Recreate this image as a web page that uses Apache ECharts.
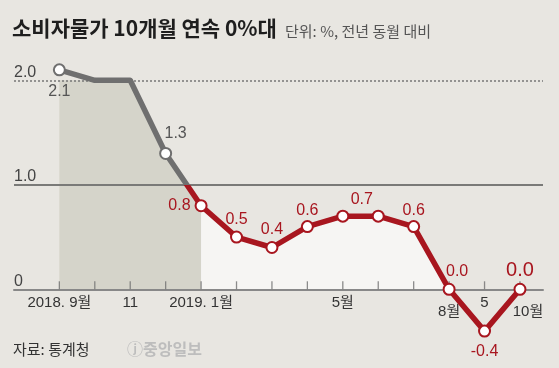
<!DOCTYPE html>
<html>
<head>
<meta charset="utf-8">
<script src="https://cdn.jsdelivr.net/npm/echarts@6/dist/echarts.min.js"></script>
<style>
html,body{margin:0;padding:0;background:#e8e6e1;}
#c{width:559px;height:368px;}
</style>
</head>
<body>
<div id="c"></div>
<script>
// ---- data ----
const categories = ['2018-09','2018-10','2018-11','2018-12','2019-01','2019-02','2019-03','2019-04','2019-05','2019-06','2019-07','2019-08','2019-09','2019-10'];
const cpi = [2.1, 2.0, 2.0, 1.3, 0.8, 0.5, 0.4, 0.6, 0.7, 0.7, 0.6, 0.0, -0.4, 0.0];
const tickLabels = ['2018. 9월','','11','','2019. 1월','','','','5월','','','8월','5','10월'];
const yTickValues = [0, 1, 2];
const titleText = '소비자물가 10개월 연속 0%대';
const unitText = '단위: %, 전년 동월 대비';
const sourceText = '자료: 통계청';
const logoText = 'ⓙ중앙일보';
const threshold = 1.0;   // colour change of the line
const shadeCap = 2.0;    // top of the shaded 2018 block
const grayEnd = 4;       // index of 2019-01
const lightEnd = 11;     // index of 2019-08

// ---- styles ----
const GRAY = '#6f6f6f';
const RED = '#a8161f';
const FONT = "'Liberation Sans', 'Noto Sans CJK KR', sans-serif";
const KFONT = "'Noto Sans CJK KR', sans-serif";
const noMarker = [1, 2];
const labelCfg = {
  0: {position:'bottom', distance:7, color:'#555'},
  3: {position:'top', distance:5, offset:[10,0], color:'#555'},
  4: {position:'left', distance:4},
  5: {position:'top', distance:3},
  6: {position:'top', distance:3},
  7: {position:'top', distance:2},
  8: {position:'top', distance:2, offset:[19,0]},
  10: {position:'top', distance:2},
  11: {position:'top', distance:3, offset:[8,0]},
  12: {position:'bottom', distance:6},
  13: {position:'top', distance:2, fontSize:20}
};
const lowered = {11:'low8', 13:'low10'};

const lineData = cpi.map((v, i) => {
  const item = {value:[i, v]};
  if (noMarker.includes(i)) item.symbol = 'none';
  const lc = labelCfg[i];
  if (lc) {
    item.label = Object.assign({show:true, color:RED, fontSize:16}, lc);
  }
  return item;
});
const grayArea = cpi.slice(0, grayEnd + 1).map((v, i) => [i, Math.min(v, shadeCap)]);
const lightArea = cpi.slice(grayEnd, lightEnd + 1).map((v, i) => [i + grayEnd, v]);
const tickMarks = categories.map((c, i) => [i, 0]);
const labelIdx = tickLabels.map((t, i) => t ? i : -1).filter(i => i >= 0);

const chart = echarts.init(document.getElementById('c'), null, {renderer:'canvas'});
chart.setOption({
  backgroundColor:'#e8e6e1',
  animation:false,
  title:[
    {text:titleText, left:12, top:18, padding:0,
     textStyle:{fontFamily:KFONT, fontSize:21, fontWeight:'bold', color:'#1e1e1e'}},
    {text:unitText, left:285, top:24, padding:0,
     textStyle:{fontFamily:KFONT, fontSize:15, fontWeight:'normal', color:'#555'}},
    {text:sourceText, left:13, top:342, padding:0,
     textStyle:{fontFamily:KFONT, fontSize:15, fontWeight:'normal', color:'#333'}},
    {text:logoText, left:127, top:341, padding:0,
     textStyle:{fontFamily:KFONT, fontSize:16, fontWeight:'bold', color:'#bdbdbd'}}
  ],
  grid:{left:14, right:16, top:59.4, bottom:78.7, containLabel:false, outerBoundsMode:'none'},
  xAxis:{
    type:'value', min:-1.28, max:13.65, z:1,
    splitLine:{show:false},
    axisLine:{show:true, onZero:false, lineStyle:{color:'#888', width:2}},
    axisTick:{show:false},
    axisLabel:{
      show:true, customValues:labelIdx, margin:6,
      fontFamily:FONT, fontSize:15, color:'#333',
      formatter:(v) => { const t = tickLabels[Math.round(v)] || ''; const r = lowered[Math.round(v)]; return r ? '{' + r + '|' + t + '}' : t; },
      rich:{
        low8:{fontFamily:FONT, fontSize:15, color:'#333', padding:[9,0,0,0]},
        low10:{fontFamily:FONT, fontSize:15, color:'#333', padding:[9,0,0,16]}
      }
    }
  },
  yAxis:{
    type:'value', min:0, max:2.2,
    splitLine:{show:false}, axisLine:{show:false}, axisTick:{show:false},
    axisLabel:{
      show:true, inside:true, margin:0, customValues:yTickValues,
      verticalAlign:'bottom', fontFamily:FONT, fontSize:16, color:'#444',
      formatter:(v) => v === 0 ? '0' : v.toFixed(1)
    }
  },
  visualMap:{
    show:false, type:'piecewise', dimension:1, seriesIndex:2,
    pieces:[{gt:threshold, lte:10, color:GRAY}, {gt:-10, lte:threshold, color:RED}],
    outOfRange:{color:RED}
  },
  series:[
    {
      type:'line', data:grayArea, symbol:'none', z:-3, silent:true,
      lineStyle:{width:0}, areaStyle:{color:'#d5d4ca', opacity:1, origin:'auto'},
      markLine:{
        silent:true, symbol:'none', label:{show:false}, z:-1,
        data:[
          {yAxis:2, lineStyle:{type:[2,2], color:'#777', width:1.5}},
          {yAxis:1, lineStyle:{type:'solid', color:'#7a7a78', width:2}}
        ]
      }
    },
    {
      type:'line', data:lightArea, symbol:'none', z:-3, silent:true,
      lineStyle:{width:0}, areaStyle:{color:'#f6f5f3', opacity:1, origin:'auto'}
    },
    {
      type:'line', data:lineData, z:5, clip:false,
      symbol:'emptyCircle', symbolSize:11, showAllSymbol:true,
      lineStyle:{width:5.5, cap:'round', join:'round'},
      itemStyle:{borderWidth:3.5},
      label:{fontFamily:FONT, formatter:(p) => p.value[1].toFixed(1)}
    },
    {
      type:'scatter', data:tickMarks, z:3, silent:true, clip:false,
      symbol:'rect', symbolSize:[1.3, 8], symbolOffset:[0, -4],
      itemStyle:{color:'#707070'}
    }
  ]
});
</script>
</body>
</html>
